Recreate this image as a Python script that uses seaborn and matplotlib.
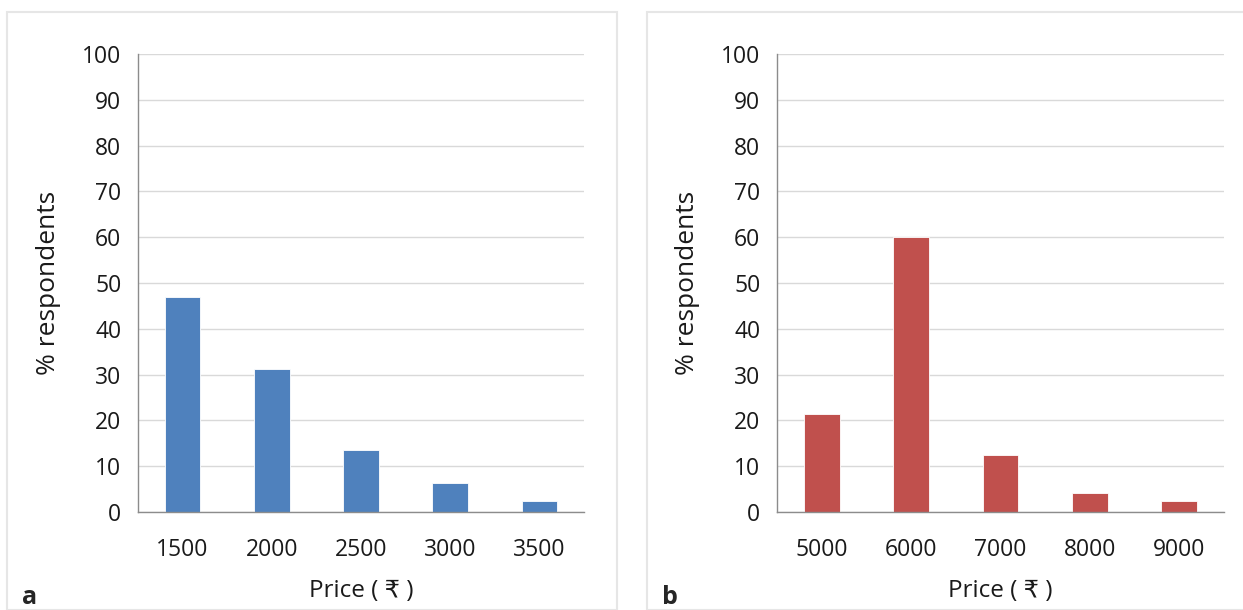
import pandas as pd
import seaborn as sns
import matplotlib.pyplot as plt
from matplotlib.patches import Rectangle

# values
prices_a = ["1500", "2000", "2500", "3000", "3500"]
pct_a = [46.9, 31.2, 13.5, 6.3, 2.3]
prices_b = ["5000", "6000", "7000", "8000", "9000"]
pct_b = [21.5, 60.0, 12.4, 4.2, 2.5]
y_ticks = list(range(0, 101, 10))

sns.set_style("white")
plt.rcParams["font.family"] = ["Open Sans", "DejaVu Sans"]

W, H = 1243, 610
fig = plt.figure(figsize=(W / 100, H / 100), dpi=100)


def px_axes(left, right, top, bottom):
    return fig.add_axes([left / W, 1 - bottom / H, (right - left) / W, (bottom - top) / H])


def draw_panel(ax, cats, vals, color):
    df = pd.DataFrame({"price": cats, "pct": vals})
    sns.barplot(data=df, x="price", y="pct", color=color, width=0.4,
                saturation=1, edgecolor="white", linewidth=0.6, ax=ax)
    ax.set_ylim(0, 100)
    ax.set_xlim(-0.5, len(cats) - 0.5)
    ax.set_yticks(y_ticks)
    ax.yaxis.grid(True, color="#d9d9d9", linewidth=1)
    ax.set_axisbelow(True)
    for s in ["top", "right"]:
        ax.spines[s].set_visible(False)
    for s in ["left", "bottom"]:
        ax.spines[s].set_color("#8c8c8c")
        ax.spines[s].set_linewidth(1)
    ax.tick_params(axis="y", length=6, color="#8c8c8c", labelsize=16.5, pad=6, labelcolor="#1a1a1a")
    ax.tick_params(axis="x", which="major", length=0, labelsize=16.5, pad=19, labelcolor="#1a1a1a")
    ax.set_xticks([i - 0.5 for i in range(len(cats) + 1)], minor=True)
    ax.tick_params(axis="x", which="minor", length=7, color="#8c8c8c")
    ax.set_xlabel("Price ( \u20b9 )", fontsize=17.5, labelpad=12, color="#1a1a1a")
    ax.set_ylabel("% respondents", fontsize=19, labelpad=15, color="#1a1a1a")


# panel frames
fig.add_artist(Rectangle((7 / W, 0), 610 / W, 1 - 12 / H, transform=fig.transFigure,
                         fill=False, edgecolor="#e6e6e6", linewidth=1.5))
fig.add_artist(Rectangle((647 / W, 0), 600 / W, 1 - 12 / H, transform=fig.transFigure,
                         fill=False, edgecolor="#e6e6e6", linewidth=1.5))

ax_a = px_axes(138, 584, 54, 512)
ax_b = px_axes(777, 1224, 54, 512)
draw_panel(ax_a, prices_a, pct_a, "#4f81bd")
draw_panel(ax_b, prices_b, pct_b, "#c0504d")

fig.text(22 / W, 1 - 604 / H, "a", fontsize=18, fontweight="bold", va="baseline")
fig.text(662 / W, 1 - 604 / H, "b", fontsize=18, fontweight="bold", va="baseline")

fig.savefig("out.png", dpi=100)
